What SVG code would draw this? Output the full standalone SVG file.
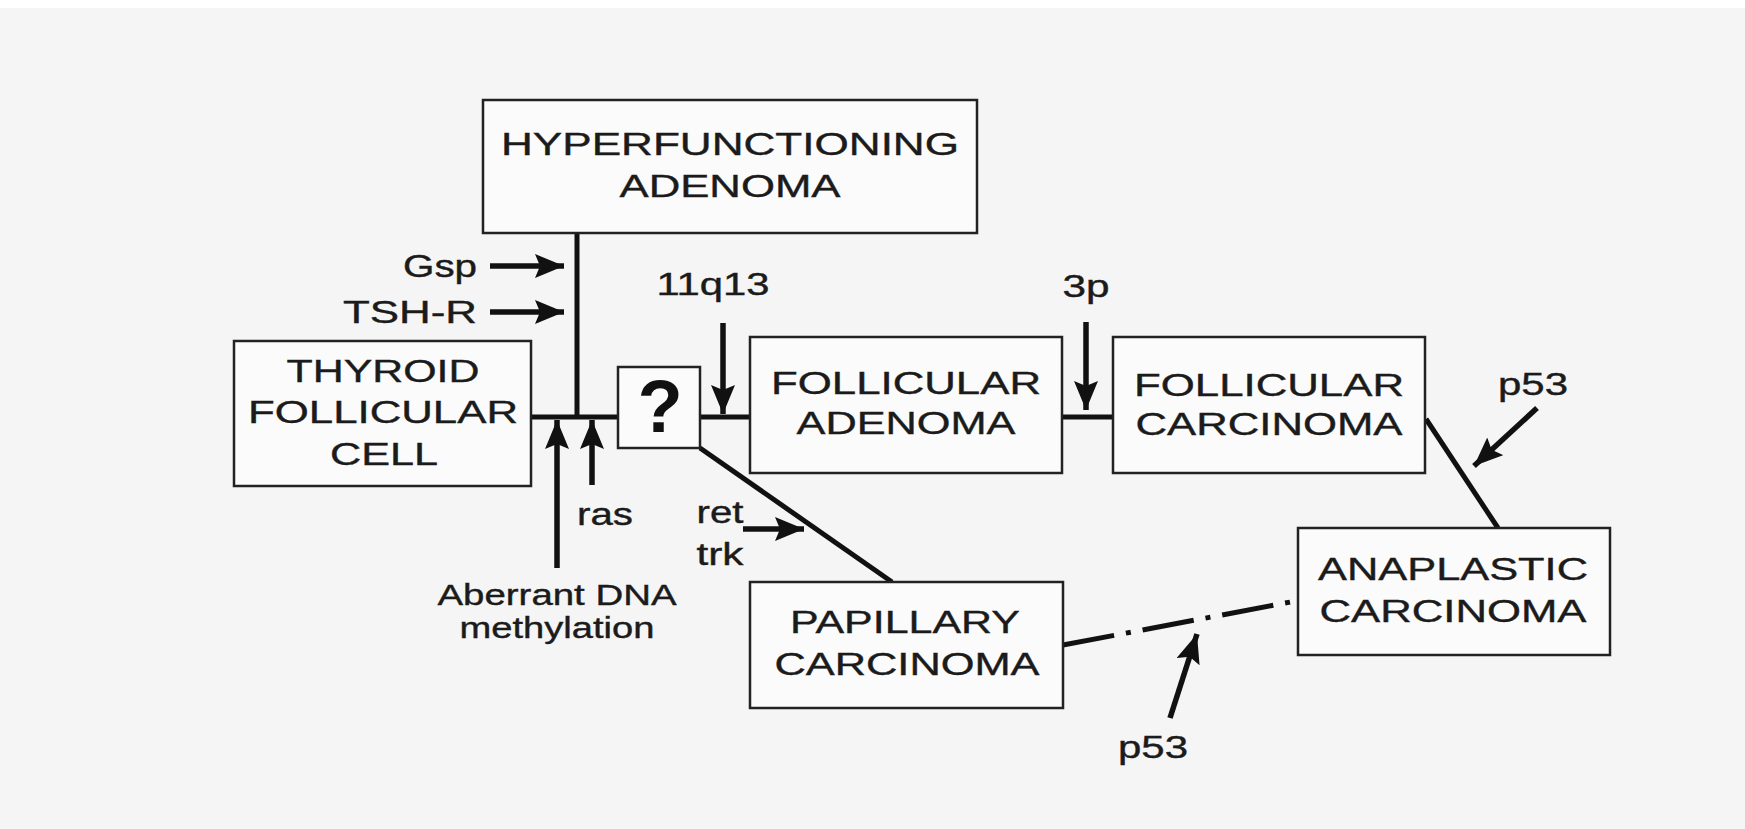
<svg xmlns="http://www.w3.org/2000/svg" width="1745" height="829" viewBox="0 0 1745 829">
<defs>
<style>
.box{fill:#fbfbfb;stroke:#222;stroke-width:2.5}
.t{font-family:"Liberation Sans",Arial,Helvetica,sans-serif;font-size:32px;fill:#1b1b1b;stroke:#1b1b1b;stroke-width:0.4;text-anchor:middle}
.s{font-family:"Liberation Sans",Arial,Helvetica,sans-serif;font-size:31px;fill:#1b1b1b;stroke:#1b1b1b;stroke-width:0.4;text-anchor:middle}
.m{font-size:29px}
.ln{stroke:#111;stroke-width:5;fill:none;stroke-linecap:butt}
.ar{stroke:#111;stroke-width:5.5;fill:none;marker-end:url(#ah)}
</style>
<marker id="ah" markerUnits="userSpaceOnUse" markerWidth="34" markerHeight="28" refX="29" refY="12" orient="auto">
<path d="M0,0 L29,12 L0,24 L5,12 Z" fill="#111"/>
</marker>
</defs>
<rect x="0" y="0" width="1745" height="829" fill="#f5f5f5"/>
<rect x="0" y="0" width="1745" height="8" fill="#ffffff"/>

<g id="connectors">
<line class="ln" x1="530" y1="417" x2="618" y2="417"/>
<line class="ln" x1="577" y1="233" x2="577" y2="419"/>
<line class="ln" x1="700" y1="417" x2="750" y2="417"/>
<line class="ln" x1="1062" y1="417" x2="1113" y2="417"/>
<line class="ln" x1="700" y1="448" x2="892" y2="582"/>
<line class="ln" x1="1426" y1="419" x2="1498" y2="528"/>
<line class="ln" x1="1063" y1="645" x2="1296" y2="601" stroke-dasharray="52 12 5 12"/>
</g>

<g id="arrows">
<line class="ar" x1="490" y1="266" x2="564" y2="266"/>
<line class="ar" x1="490" y1="312" x2="564" y2="312"/>
<line class="ar" x1="723" y1="323" x2="723" y2="414"/>
<line class="ar" x1="1086" y1="322" x2="1086" y2="410"/>
<line class="ar" x1="557" y1="568" x2="557" y2="420"/>
<line class="ar" x1="592" y1="485" x2="592" y2="420"/>
<line class="ar" x1="743" y1="529" x2="804" y2="529"/>
<line class="ar" x1="1537" y1="408" x2="1474" y2="466"/>
<line class="ar" x1="1170" y1="718" x2="1197" y2="634"/>
</g>

<g id="labels">
<text class="s" x="440" y="277" textLength="74" lengthAdjust="spacingAndGlyphs">Gsp</text>
<text class="s" x="410" y="323" textLength="134" lengthAdjust="spacingAndGlyphs">TSH-R</text>
<text class="s" x="713" y="295" textLength="113" lengthAdjust="spacingAndGlyphs">11q13</text>
<text class="s" x="1086" y="297" textLength="47" lengthAdjust="spacingAndGlyphs">3p</text>
<text class="s" x="1533" y="395" textLength="70" lengthAdjust="spacingAndGlyphs">p53</text>
<text class="s" x="1153" y="758" textLength="70" lengthAdjust="spacingAndGlyphs">p53</text>
<text class="s" x="605" y="525" textLength="56" lengthAdjust="spacingAndGlyphs">ras</text>
<text class="s" x="720" y="523" textLength="47" lengthAdjust="spacingAndGlyphs">ret</text>
<text class="s" x="720" y="565" textLength="47" lengthAdjust="spacingAndGlyphs">trk</text>
<text class="s m" x="557" y="605" textLength="239" lengthAdjust="spacingAndGlyphs">Aberrant DNA</text>
<text class="s m" x="557" y="638" textLength="195" lengthAdjust="spacingAndGlyphs">methylation</text>
</g>

<g id="hyperfunctioning-adenoma">
<rect class="box" x="483" y="100" width="494" height="133"/>
<text class="t" x="730" y="155" textLength="458" lengthAdjust="spacingAndGlyphs">HYPERFUNCTIONING</text>
<text class="t" x="730" y="197" textLength="221" lengthAdjust="spacingAndGlyphs">ADENOMA</text>
</g>

<g id="thyroid-follicular-cell">
<rect class="box" x="234" y="341" width="297" height="145"/>
<text class="t" x="383" y="382" textLength="193" lengthAdjust="spacingAndGlyphs">THYROID</text>
<text class="t" x="383" y="423" textLength="270" lengthAdjust="spacingAndGlyphs">FOLLICULAR</text>
<text class="t" x="384" y="465" textLength="108" lengthAdjust="spacingAndGlyphs">CELL</text>
</g>

<g id="unknown">
<rect class="box" x="618" y="367" width="82" height="81"/>
<text x="660" y="432" font-family="'Liberation Sans',Arial,sans-serif" font-weight="bold" font-size="74" fill="#111" text-anchor="middle">?</text>
</g>

<g id="follicular-adenoma">
<rect class="box" x="750" y="337" width="312" height="136"/>
<text class="t" x="906" y="394" textLength="270" lengthAdjust="spacingAndGlyphs">FOLLICULAR</text>
<text class="t" x="906" y="434" textLength="219" lengthAdjust="spacingAndGlyphs">ADENOMA</text>
</g>

<g id="follicular-carcinoma">
<rect class="box" x="1113" y="337" width="312" height="136"/>
<text class="t" x="1269" y="396" textLength="270" lengthAdjust="spacingAndGlyphs">FOLLICULAR</text>
<text class="t" x="1269" y="435" textLength="267" lengthAdjust="spacingAndGlyphs">CARCINOMA</text>
</g>

<g id="papillary-carcinoma">
<rect class="box" x="750" y="582" width="313" height="126"/>
<text class="t" x="905" y="633" textLength="230" lengthAdjust="spacingAndGlyphs">PAPILLARY</text>
<text class="t" x="907" y="675" textLength="265" lengthAdjust="spacingAndGlyphs">CARCINOMA</text>
</g>

<g id="anaplastic-carcinoma">
<rect class="box" x="1298" y="528" width="312" height="127"/>
<text class="t" x="1453" y="580" textLength="270" lengthAdjust="spacingAndGlyphs">ANAPLASTIC</text>
<text class="t" x="1453" y="622" textLength="267" lengthAdjust="spacingAndGlyphs">CARCINOMA</text>
</g>
</svg>
